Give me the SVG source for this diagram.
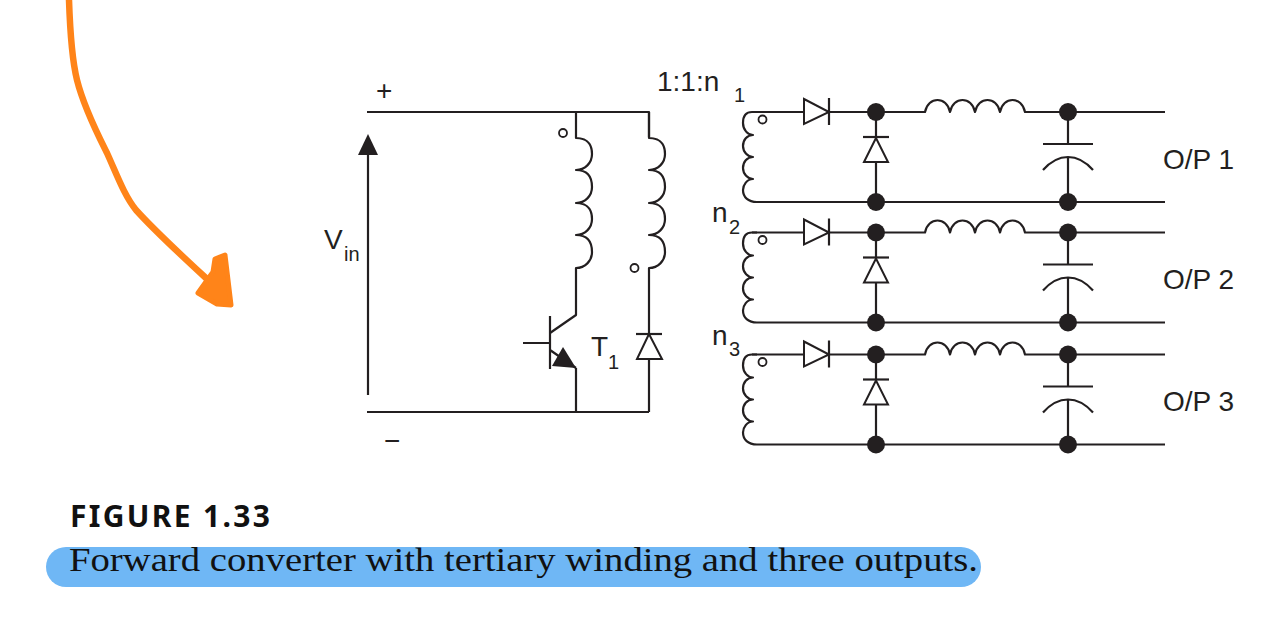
<svg xmlns="http://www.w3.org/2000/svg" xmlns:xlink="http://www.w3.org/1999/xlink" width="1280" height="618" viewBox="0 0 1280 618">
<style>
.w{fill:none;stroke:#231f20;stroke-width:2.2;stroke-linecap:butt;stroke-linejoin:round}
.d{fill:#fff;stroke:#231f20;stroke-width:2}
.j{fill:#231f20;stroke:none}
.t{font-family:"Liberation Sans",Arial,sans-serif;fill:#231f20;font-size:28px}
.s{font-family:"Liberation Sans",Arial,sans-serif;fill:#231f20;font-size:20px}
.o{fill:none;stroke:#231f20;stroke-width:1.8}
</style>
<defs>
<g id="stage">
<path class="w" d="M757 0H752C745 0 743 5 743 11C743 18 748 23 753 23C747 23 743 28 743 34C743 40 748 45 753 45C747 45 743 50 743 56C743 62 748 67 753 67C747 67 743 73 743 78C743 85 748 90 757 90H1165"/>
<path class="w" d="M752 0H804M829 0H925C928 -16 947 -16 950 0C953 -16 972 -16 975 0C978 -16 997 -16 1000 0C1003 -16 1022 -16 1025 0H1165"/>
<path class="d" d="M804 -13V12L829 0Z"/>
<path class="w" d="M829 -14V13"/>
<path class="w" d="M876 0V26M876 50V90"/>
<path class="d" d="M876 26L864 50H888Z"/>
<path class="w" d="M863 25H889"/>
<path class="w" d="M1068 0V32M1043 32H1093M1068 45V90M1043 58C1051 49 1060 45 1068 45C1076 45 1085 49 1093 58"/>
<circle class="j" cx="876" cy="0" r="9"/>
<circle class="j" cx="876" cy="90" r="9"/>
<circle class="j" cx="1068" cy="0" r="9"/>
<circle class="j" cx="1068" cy="90" r="9"/>
<circle class="o" cx="762.500" cy="7.500" r="4"/>
</g>
</defs>
<rect width="1280" height="618" fill="#fff"/>
<g id="annotation-arrow">
<path d="M69 0C70 30 72 60 77 80C84 108 98 135 107 153C117 175 124 195 136 210C145 220 170 245 207 279" fill="none" stroke="#ff8419" stroke-width="6.500" stroke-linecap="round"/>
<path d="M198 293L213 272L215 259L225 255L231 305L217 304Z" fill="#ff8419" stroke="#ff8419" stroke-width="5" stroke-linejoin="round"/>
</g>
<g id="connectors">
<path class="w" d="M367 112H649V137M576 112V138C590 138 592 148 592 154C592 163 585 170 576 170C590 170 592 180 592 187C592 196 585 203 576 203C590 203 592 213 592 219C592 228 585 235 576 235C590 235 592 245 592 252C592 261 585 268 576 268V315L550 333"/>
<path class="w" d="M649 112V138C663 138 665 148 665 154C665 163 658 170 649 170C663 170 665 180 665 187C665 196 658 203 649 203C663 203 665 213 665 219C665 228 658 235 649 235C663 235 665 245 665 252C665 261 658 268 649 268V334M649 359V412M367 412H649M576 368V412"/>
<path class="w" d="M523 343H550M550 316V369M550 350L576 368"/>
<path class="w" d="M368 395V150"/>
</g>
<g id="vin-arrow"><path class="j" d="M368 134L358 155H378Z"/></g>
<g id="transistor">
<path class="j" d="M563 347L576 368L552 366Z"/>
<text class="t" x="591" y="356">T</text><text class="s" x="608" y="369">1</text>
</g>
<g id="primary-dots">
<circle class="o" cx="563" cy="133" r="4"/>
<circle class="o" cx="634.500" cy="268" r="4"/>
</g>
<g id="tertiary-diode">
<path class="d" d="M649 334L637 359H662Z"/>
<path class="w" d="M636 334H662"/>
</g>
<g id="output-1"><use xlink:href="#stage" href="#stage" transform="translate(0 112)"/></g>
<g id="output-2"><use xlink:href="#stage" href="#stage" transform="translate(0 232.500)"/></g>
<g id="output-3"><use xlink:href="#stage" href="#stage" transform="translate(0 354.500)"/></g>
<g id="labels">
<text class="t" x="376" y="100">+</text>
<text class="t" x="384" y="450">−</text>
<text class="t" x="324" y="249">V</text><text class="s" x="344" y="261">in</text>
<text class="t" x="657" y="91">1:1:n</text><text class="s" x="734" y="102">1</text>
<text class="t" x="712" y="222">n</text><text class="s" x="729" y="234">2</text>
<text class="t" x="712" y="345">n</text><text class="s" x="729" y="356">3</text>
<text class="t" x="1163" y="169">O/P 1</text>
<text class="t" x="1163" y="289">O/P 2</text>
<text class="t" x="1163" y="411">O/P 3</text>
</g>
<g id="caption">
<rect x="46" y="547" width="935" height="40" rx="20" fill="#6fb7f5"/>
<text x="70" y="527" font-family="'Noto Sans','Open Sans',sans-serif" font-weight="700" font-size="30" fill="#111" textLength="200" lengthAdjust="spacing">FIGURE 1.33</text>
<text x="69" y="571" font-family="'Liberation Serif',serif" font-size="33" fill="#111" textLength="909" lengthAdjust="spacingAndGlyphs">Forward converter with tertiary winding and three outputs.</text>
</g>
</svg>
